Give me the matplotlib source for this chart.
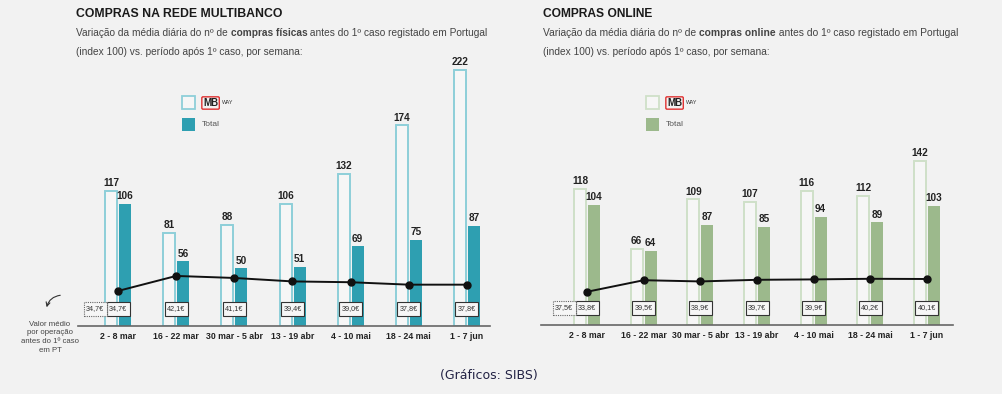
import matplotlib
matplotlib.use("Agg")
import matplotlib.pyplot as plt
from matplotlib.patches import Rectangle, FancyArrowPatch
import matplotlib.transforms as mtransforms

# semanas
weeks = ["2 - 8 mar", "16 - 22 mar", "30 mar - 5 abr", "13 - 19 abr",
         "4 - 10 mai", "18 - 24 mai", "1 - 7 jun"]

# compras físicas (rede Multibanco)
fis_mbway = [117, 81, 88, 106, 132, 174, 222]
fis_total = [106, 56, 50, 51, 69, 75, 87]
fis_valor = [34.7, 42.1, 41.1, 39.4, 39.0, 37.8, 37.8]
fis_antes = 34.7

# compras online
onl_mbway = [118, 66, 109, 107, 116, 112, 142]
onl_total = [104, 64, 87, 85, 94, 89, 103]
onl_valor = [33.8, 39.5, 38.9, 39.7, 39.9, 40.2, 40.1]
onl_antes = 37.5

W, H = 1002, 394
BG = "#f2f2f2"
FONT = ["Liberation Sans", "DejaVu Sans"]
plt.rcParams["font.family"] = FONT

fig = plt.figure(figsize=(W / 100, H / 100), dpi=100, facecolor=BG)
renderer = fig.canvas.get_renderer()


def px(x, y):
    # pixel (top-left origin) -> figure fraction
    return x / W, 1 - y / H


def rich(x, y, parts, size, color="#444444", fit=None):
    # texto com partes normais/negrito; 'fit' = largura alvo em px
    def draw(sz):
        xx, out = x, []
        for s, bold in parts:
            t = fig.text(*px(xx, y), s, fontsize=sz, color=color,
                         fontweight="bold" if bold else "normal",
                         va="baseline", ha="left")
            xx += t.get_window_extent(renderer).width
            out.append(t)
        return out, xx - x
    ts, w = draw(size)
    if fit:
        for t in ts:
            t.remove()
        draw(size * fit / w)


PXU = 1.153               # pixels por unidade de índice
SLOPE, OFF = 2.03, 35.4   # pixels acima da base por € (linha)


def panel(x0, x1, c0, c6, base, mbway, total, valor, antes, edge, fill, legx):
    top = 40
    ax = fig.add_axes([x0 / W, 1 - base / H, (x1 - x0) / W, (base - top) / H])
    ax.set_facecolor("none")
    step = (c6 - c0) / 6
    ax.set_xlim((x0 - c0) / step, (x1 - c0) / step)
    hpx = base - top
    ax.set_ylim(0, hpx / PXU)
    xs = list(range(len(weeks)))
    bw, off = 12 / step, 7 / step
    ax.bar([x - off for x in xs], mbway, width=bw, facecolor="#f6f6f6",
           edgecolor=edge, linewidth=1.4, zorder=2)
    ax.bar([x + off for x in xs], total, width=bw, color=fill, zorder=2)
    for x, v in zip(xs, mbway):
        ax.annotate(str(v), (x - off, v), xytext=(0, 2), textcoords="offset points",
                    ha="center", va="bottom", fontsize=7.2, fontweight="bold", color="#222222")
    for x, v in zip(xs, total):
        ax.annotate(str(v), (x + off, v), xytext=(0, 2), textcoords="offset points",
                    ha="center", va="bottom", fontsize=7.2, fontweight="bold", color="#222222")
    for s in ["top", "right", "left"]:
        ax.spines[s].set_visible(False)
    ax.spines["bottom"].set_color("#666666")
    ax.spines["bottom"].set_linewidth(1.2)
    ax.set_yticks([])
    ax.set_xticks(xs)
    ax.set_xticklabels(weeks, fontsize=6.3, fontweight="bold", color="#222222")
    ax.tick_params(axis="x", length=0, pad=4)

    # linha do valor médio por operação
    ax2 = ax.twinx()
    ax2.set_ylim(OFF / SLOPE, (hpx + OFF) / SLOPE)
    ax2.axis("off")
    ax2.plot(xs, valor, color="#111111", lw=1.4, marker="o", ms=5, zorder=5)

    # caixas com o valor
    tr = mtransforms.blended_transform_factory(ax.transData, ax.transAxes)
    bxw, bxh, yb = 23 / step, 14 / hpx, 10 / hpx

    def box(xc, v, ls):
        ax.add_patch(Rectangle((xc - bxw / 2, yb), bxw, bxh, transform=tr, fc="#f6f6f6",
                               ec="#333333" if ls == "-" else "#666666", lw=0.8,
                               ls=ls, zorder=6))
        ax.text(xc, yb + bxh / 2, f"{v:.1f}".replace(".", ",") + "€", transform=tr,
                ha="center", va="center", fontsize=5.2, color="#333333", zorder=7)
    for x, v in zip(xs, valor):
        box(x, v, "-")
    box(-bxw, antes, (0, (1, 1)))

    # legenda
    fig.patches.append(Rectangle(px(legx, 109), 13 / W, 13 / H, transform=fig.transFigure,
                                 fc="#f6f6f6", ec=edge, lw=1.3))
    fig.patches.append(Rectangle(px(legx, 131), 13 / W, 13 / H, transform=fig.transFigure,
                                 fc=fill, ec="none"))
    fig.text(*px(legx + 21, 103), "MB", fontsize=7, fontweight="bold", color="#222222",
             ha="left", va="center",
             bbox=dict(boxstyle="round,pad=0.12", fc="none", ec="#e03030", lw=1))
    fig.text(*px(legx + 40, 102), "WAY", fontsize=3.8, color="#333333",
             ha="left", va="center")
    fig.text(*px(legx + 20, 125), "Total", fontsize=6, color="#555555",
             ha="left", va="center")
    return ax


panel(78, 490, 118, 467, 326, fis_mbway, fis_total, fis_valor, fis_antes,
      "#8ecfd9", "#2e9fb1", 182)
panel(541, 953, 587, 927, 325, onl_mbway, onl_total, onl_valor, onl_antes,
      "#cfe0c8", "#9cb98c", 646)

# títulos
rich(76, 17, [("COMPRAS NA REDE MULTIBANCO", True)], 12, color="#1a1a1a", fit=205)
rich(76, 36, [("Variação da média diária do nº de ", False), ("compras físicas", True),
              (" antes do 1º caso registado em Portugal", False)], 9, fit=415)
rich(76, 55, [("(index 100) vs. período após 1º caso, por semana:", False)], 7.3)

rich(543, 17, [("COMPRAS ONLINE", True)], 12, color="#1a1a1a", fit=110)
rich(543, 36, [("Variação da média diária do nº de ", False), ("compras online", True),
               (" antes do 1º caso registado em Portugal", False)], 9, fit=415)
rich(543, 55, [("(index 100) vs. período após 1º caso, por semana:", False)], 7.3)

# nota à esquerda
fig.patches.append(FancyArrowPatch(px(63, 295), px(46, 310), transform=fig.transFigure,
                                   connectionstyle="arc3,rad=0.4", arrowstyle="->",
                                   mutation_scale=7, lw=0.8, color="#333333"))
fig.text(*px(50, 321), "Valor médio\npor operação\nantes do 1º caso\nem PT", fontsize=5.6,
         color="#444444", ha="center", va="top", linespacing=1.3)

fig.text(*px(489, 376), "(Gráficos: SIBS)", fontsize=9, color="#222244",
         ha="center", va="center", family="DejaVu Sans")

fig.savefig("out.png", dpi=100, facecolor=BG)
